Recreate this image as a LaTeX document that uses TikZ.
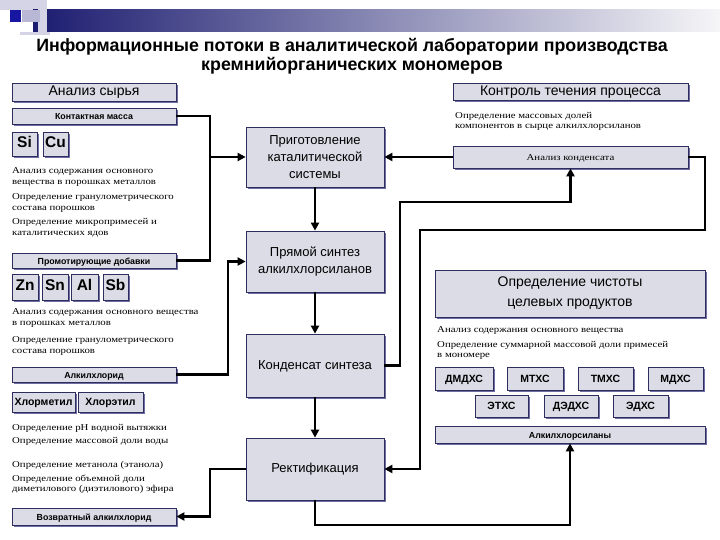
\documentclass[tikz,border=0pt]{standalone}
\usepackage{fontspec}
\setmainfont{Liberation Serif}
\setsansfont{Liberation Sans}
\newfontfamily\bodyfont[FakeStretch=1.2]{Liberation Serif}
\usetikzlibrary{shadows,arrows.meta,calc}
\definecolor{boxfill}{HTML}{DCDCE7}
\definecolor{boxdraw}{HTML}{2E2E5E}
\definecolor{shadowc}{HTML}{6E6EA2}
\definecolor{barL}{HTML}{1C1C70}
\definecolor{barM}{HTML}{9494B4}
\definecolor{barR}{HTML}{F6F6F8}
\definecolor{lavA}{HTML}{D4D4E6}
\definecolor{lavB}{HTML}{B8B8D6}
\definecolor{sqblue}{HTML}{1616A0}
\begin{document}
\begin{tikzpicture}[x=1pt,y=-1pt,
  bx/.style={draw=boxdraw, line width=0.7pt, fill=boxfill, inner sep=0pt, align=center,
    copy shadow={shadow xshift=1.8pt, shadow yshift=-1.8pt, fill=shadowc, draw=none}},
  one/.style={text height=0.72em, text depth=0pt},
  big/.style={bx, minimum width=138pt, font=\sffamily\fontsize{13}{17}\selectfont},
  hdr/.style={bx, one, minimum width=164pt, font=\sffamily\bfseries\fontsize{8.8}{10}\selectfont},
  wide/.style={bx, one, minimum width=270pt, font=\sffamily\bfseries\fontsize{8.8}{10}\selectfont},
  el/.style={bx, one, font=\sffamily\bfseries\fontsize{15.5}{17}\selectfont},
  sm/.style={bx, one, font=\sffamily\bfseries\fontsize{10.5}{12}\selectfont},
  txt/.style={anchor=north west, inner sep=0pt, align=left, font=\bodyfont\fontsize{9}{11.5}\selectfont},
  conn/.style={line width=2.6pt, draw=black},
  arr/.style={conn, -{Triangle[length=8pt,width=8pt]}}
]
\useasboundingbox (0,0) rectangle (720,540);
\fill[white] (0,0) rectangle (720,540);
% header decoration
\fill[lavA] (0,0) rectangle (47,10);
\shade[left color=barL, middle color=barM, right color=barR] (33,10) rectangle (720,32);
\fill[lavA] (38,0) rectangle (47,35);
\fill[lavB] (22,10) rectangle (40,22);
\fill[lavA] (20,32) rectangle (50,35);
\fill[sqblue] (10,10) rectangle (21,22);
% title
\node[font=\sffamily\bfseries\fontsize{17.8}{19}\selectfont, inner sep=0pt] (title1) at (352,47) {Информационные потоки в аналитической лаборатории производства};
\node[font=\sffamily\bfseries\fontsize{17.8}{19}\selectfont, inner sep=0pt] (title2) at (352,65.5) {кремнийорганических мономеров};

% left column
\node[bx, one, minimum width=164pt, minimum height=18pt, font=\sffamily\fontsize{14}{16}\selectfont] (syr) at (94,92) {Анализ сырья};
\node[hdr, minimum height=16pt] (kontakt) at (94,116) {Контактная масса};
\node[el, minimum width=25pt, minimum height=24pt] (si) at (24.5,144) {Si};
\node[el, minimum width=25pt, minimum height=24pt] (cu) at (55.5,144) {Cu};
\node[txt] (t1) at (12,167) {Анализ содержания основного\\вещества в порошках металлов};
\node[txt] (t2) at (12,193) {Определение гранулометрического\\состава порошков};
\node[txt] (t3) at (12,218) {Определение микропримесей и\\каталитических ядов};
\node[hdr, minimum height=15pt] (promo) at (94,260.5) {Промотирующие добавки};
\node[el, minimum width=26pt, minimum height=26pt] (zn) at (25,287) {Zn};
\node[el, minimum width=26pt, minimum height=26pt] (sn) at (55,287) {Sn};
\node[el, minimum width=27pt, minimum height=26pt] (al) at (84.5,287) {Al};
\node[el, minimum width=25pt, minimum height=26pt] (sb) at (115.5,287) {Sb};
\node[txt] (t4) at (12,308) {Анализ содержания основного вещества\\в порошках металлов};
\node[txt] (t5) at (12,336) {Определение гранулометрического\\состава порошков};
\node[hdr, minimum height=15pt] (alkcl) at (94,374.5) {Алкилхлорид};
\node[sm, minimum width=63pt, minimum height=20pt] (hm) at (43.5,402) {Хлорметил};
\node[sm, minimum width=65pt, minimum height=20pt] (he) at (110.5,402) {Хлорэтил};
\node[txt] (t6) at (12,424) {Определение pH водной вытяжки};
\node[txt] (t7) at (12,437) {Определение массовой доли воды};
\node[txt] (t8) at (12,461) {Определение метанола (этанола)};
\node[txt, font=\bodyfont\fontsize{9}{10}\selectfont] (t9) at (12,475) {Определение объемной доли\\диметилового (диэтилового) эфира};
\node[hdr, minimum height=17pt] (vozvr) at (94,516.5) {Возвратный алкилхлорид};

% center column
\node[big, minimum height=60pt] (prig) at (315,157) {Приготовление\\каталитической\\системы};
\node[big, minimum height=61pt] (pryam) at (315,261.5) {Прямой синтез\\алкилхлорсиланов};
\node[big, one, minimum height=63pt] (kond) at (315,365.5) {Конденсат синтеза};
\node[big, one, minimum height=62pt] (rekt) at (315,469) {Ректификация};

% right column
\node[bx, one, minimum width=235pt, minimum height=17pt, font=\sffamily\fontsize{14}{16}\selectfont] (kontr) at (570.5,91.5) {Контроль течения процесса};
\node[txt, font=\bodyfont\fontsize{9}{10}\selectfont] (t10) at (455,112) {Определение массовых долей\\компонентов в сырце алкилхлорсиланов};
\node[bx, one, minimum width=235pt, minimum height=22pt, font=\bodyfont\fontsize{9}{11}\selectfont] (analkond) at (570.5,157) {Анализ конденсата};
\node[bx, minimum width=270pt, minimum height=47pt, font=\sffamily\fontsize{14}{20}\selectfont] (chist) at (570,293.5) {Определение чистоты\\целевых продуктов};
\node[txt] (t11) at (437,326) {Анализ содержания основного вещества};
\node[txt, font=\bodyfont\fontsize{9}{10}\selectfont] (t12) at (437,341) {Определение суммарной массовой доли примесей\\в мономере};
\node[sm, minimum width=58pt, minimum height=23pt] (dmdhs) at (464,378.5) {ДМДХС};
\node[sm, minimum width=56pt, minimum height=23pt] (mths) at (535,378.5) {МТХС};
\node[sm, minimum width=55pt, minimum height=23pt] (tmhs) at (605.5,378.5) {ТМХС};
\node[sm, minimum width=55pt, minimum height=23pt] (mdhs) at (675.5,378.5) {МДХС};
\node[sm, minimum width=53pt, minimum height=22pt] (eths) at (501.5,406) {ЭТХС};
\node[sm, minimum width=54pt, minimum height=22pt] (dedhs) at (571,406) {ДЭДХС};
\node[sm, minimum width=55pt, minimum height=22pt] (edhs) at (640.5,406) {ЭДХС};
\node[wide, minimum height=17pt] (alksil) at (570,434.5) {Алкилхлорсиланы};

% junctions
\coordinate (j1) at (210,157);
\coordinate (j2) at (228,261.5);
\coordinate (j4) at (210,469);
\coordinate (j5) at (315,525);
\coordinate (j6) at (400,202);
\coordinate (j7) at (705,230);
\coordinate (j8) at (420,230);

% connectors
\draw[conn] (kontakt.east) -| (j1);
\draw[conn] (promo.east) -| (j1);
\draw[arr] (j1) -- (prig.west);
\draw[arr] (alkcl.east) -| (j2) -- (pryam.west);
\draw[arr] (prig.south) -- (pryam.north);
\draw[arr] (pryam.south) -- (kond.north);
\draw[arr] (kond.south) -- (rekt.north);
\draw[arr] (rekt.west) -- (j4) |- (vozvr.east);
\draw[arr] (rekt.south) -- (j5) -| (alksil.south);
\draw[arr] (kond.east) -| (j6) -| (analkond.south);
\draw[arr] (analkond.west) -- (prig.east);
\draw[arr] (analkond.east) -| (j7) -- (j8) |- (rekt.east);
\end{tikzpicture}
\end{document}
